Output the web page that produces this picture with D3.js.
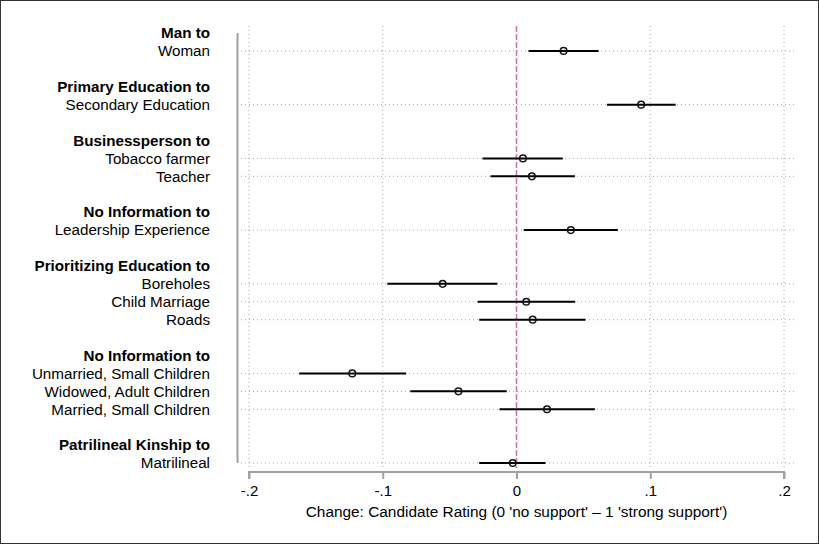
<!DOCTYPE html>
<html><head><meta charset="utf-8">
<script src="https://cdn.jsdelivr.net/npm/d3@7"></script>
<style>body{margin:0;background:#fff}svg{display:block}text{font-family:"Liberation Sans",Arial,Helvetica,sans-serif}</style>
</head><body>
<script>
// rows: header rows (bold), item rows, blank rows
const rowLabels = ["Man to","Woman","","Primary Education to","Secondary Education","","Businessperson to","Tobacco farmer","Teacher","","No Information to","Leadership Experience","","Prioritizing Education to","Boreholes","Child Marriage","Roads","","No Information to","Unmarried, Small Children","Widowed, Adult Children","Married, Small Children","","Patrilineal Kinship to","Matrilineal"];
const headerRows = [0,3,6,10,13,18,23];
const items = ["Woman","Secondary Education","Tobacco farmer","Teacher","Leadership Experience","Boreholes","Child Marriage","Roads","Unmarried, Small Children","Widowed, Adult Children","Married, Small Children","Matrilineal"];
const itemRows = [1,4,7,8,11,14,15,16,19,20,21,24];
const estimates = [0.0352,0.0932,0.0048,0.0115,0.0406,-0.0552,0.0073,0.0121,-0.1228,-0.0434,0.0228,-0.0028];
const ciLow  = [0.0090,0.0676,-0.0254,-0.0194,0.0054,-0.0966,-0.0290,-0.0279,-0.1625,-0.0794,-0.0127,-0.0279];
const ciHigh = [0.0614,0.1190,0.0346,0.0437,0.0758,-0.0144,0.0439,0.0515,-0.0825,-0.0073,0.0586,0.0217];
const xTicks = [-0.2,-0.1,0,0.1,0.2];
const xTickLabels = ["-.2","-.1","0",".1",".2"];
const xTitle = "Change: Candidate Rating (0 'no support' \u2013 1 'strong support')";

const W=819,H=544;
const svg=d3.select("body").append("svg").attr("width",W).attr("height",H);
svg.append("rect").attr("x",0.5).attr("y",0.5).attr("width",W-1).attr("height",H-1).attr("fill","#fff").attr("stroke","#333").attr("stroke-width",1);

const x=d3.scaleLinear().domain([-0.2,0.2]).range([249,784]);
const y=d3.scaleLinear().domain([0,24]).range([33,463]);
const grid="#a8a8a8";

// vertical grid
svg.append("g").selectAll("line").data(xTicks).join("line")
  .attr("x1",d=>x(d)).attr("x2",d=>x(d)).attr("y1",26).attr("y2",468)
  .attr("stroke",grid).attr("stroke-width",1).attr("stroke-dasharray","1,3");
// horizontal grid at item rows
svg.append("g").selectAll("line").data(itemRows).join("line")
  .attr("x1",241).attr("x2",796).attr("y1",d=>y(d)).attr("y2",d=>y(d))
  .attr("stroke",grid).attr("stroke-width",1).attr("stroke-dasharray","1,3");

// y axis line
svg.append("line").attr("x1",237.5).attr("x2",237.5).attr("y1",y(0)).attr("y2",y(24)).attr("stroke","#a0a0a0").attr("stroke-width",2);

// x axis
const xAxis=d3.axisBottom(x).tickValues(xTicks).tickFormat((d,i)=>xTickLabels[i]).tickSize(7).tickPadding(6);
const ax=svg.append("g").attr("transform","translate(0,472)").call(xAxis);
ax.select(".domain").attr("stroke","#a0a0a0").attr("stroke-width",2).attr("d",`M${x(-0.2)},7V0H${x(0.2)}V7`);
ax.selectAll(".tick line").attr("stroke","#a0a0a0").attr("stroke-width",2);
ax.selectAll(".tick text").attr("fill","#000").style("font-size","15px").style("font-family","'Liberation Sans',Arial,sans-serif");

svg.append("text").attr("x",(x(-0.2)+x(0.2))/2).attr("y",517).attr("text-anchor","middle").style("font-size","15.4px").text(xTitle);

// zero line
svg.append("line").attr("x1",x(0)).attr("x2",x(0)).attr("y1",26).attr("y2",468)
  .attr("stroke","#c77aab").attr("stroke-width",1.6).attr("stroke-dasharray","6,2");

// row labels
svg.append("g").selectAll("text").data(rowLabels.map((t,i)=>({t,i})).filter(d=>d.t!=="")).join("text")
  .attr("x",210).attr("y",d=>y(d.i)).attr("dy","0.35em").attr("text-anchor","end")
  .style("font-size","15.2px").style("font-weight",d=>headerRows.includes(d.i)?"bold":"normal").text(d=>d.t);

// CIs
const data=items.map((n,i)=>({n,r:itemRows[i],e:estimates[i],lo:ciLow[i],hi:ciHigh[i]}));
svg.append("g").selectAll("line").data(data).join("line")
  .attr("x1",d=>x(d.lo)).attr("x2",d=>x(d.hi)).attr("y1",d=>y(d.r)).attr("y2",d=>y(d.r))
  .attr("stroke","#000").attr("stroke-width",2);
svg.append("g").selectAll("circle").data(data).join("circle")
  .attr("cx",d=>x(d.e)).attr("cy",d=>y(d.r)).attr("r",3.3)
  .attr("fill","none").attr("stroke","#111").attr("stroke-width",1.5);
</script>
</body></html>
